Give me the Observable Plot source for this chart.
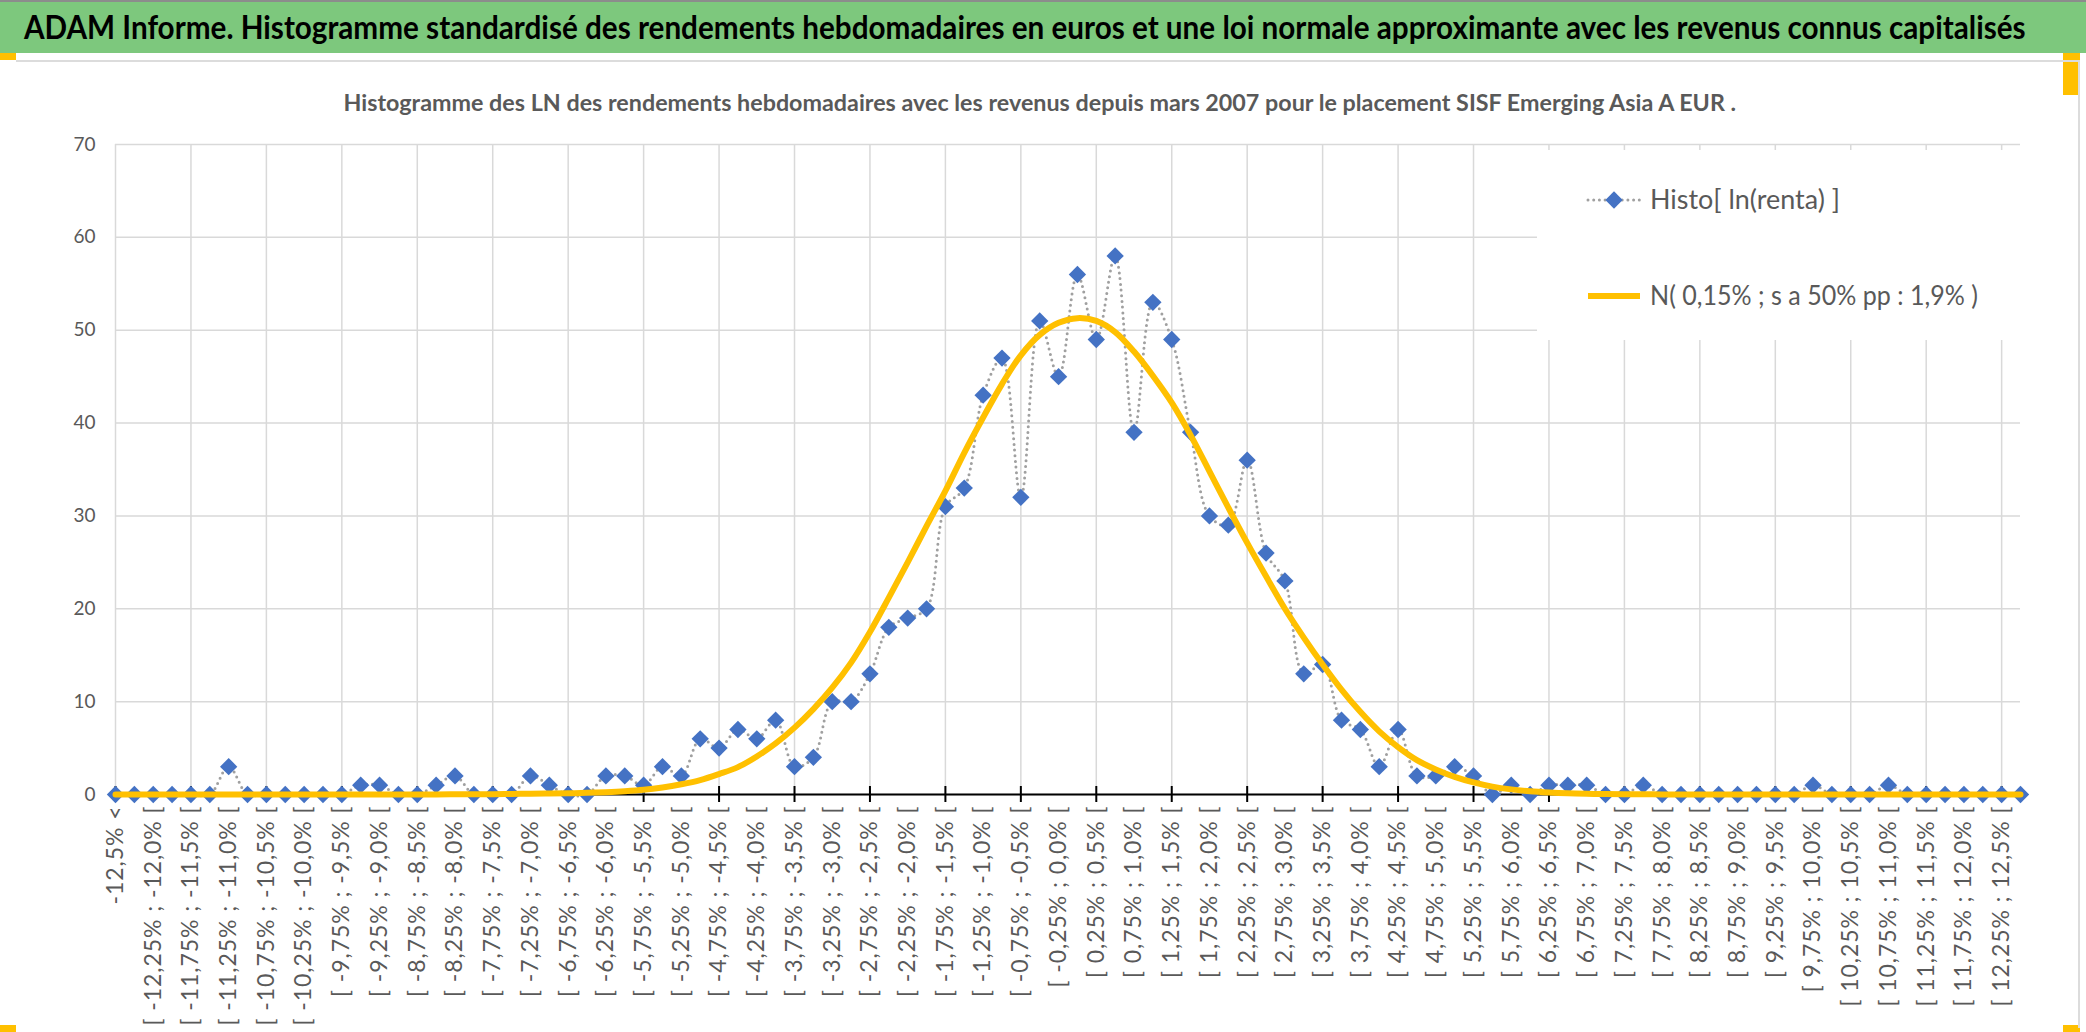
<!DOCTYPE html>
<html><head><meta charset="utf-8">
<script src="https://cdn.jsdelivr.net/npm/d3@7"></script>
<script src="https://cdn.jsdelivr.net/npm/@observablehq/plot@0.6"></script>
<style>
body{margin:0;background:#fff;}
#page{position:relative;width:2086px;height:1032px;overflow:hidden;background:#fff;font-family:Lato,"Open Sans",sans-serif;}
#titlebar{position:absolute;left:0;top:0;width:2086px;height:53px;background:#7dc87d;border-top:2px solid #8c8c8c;box-sizing:border-box;}
.orange{position:absolute;background:#ffc000;}
#box{position:absolute;left:16px;top:60px;width:2064px;height:968px;border-top:2px solid #dcdcdc;border-right:2px solid #dcdcdc;box-sizing:border-box;}
#chart{position:absolute;left:0;top:61px;}
#sub{position:absolute;left:0;top:61px;}
</style></head>
<body><div id="page">
<div id="titlebar"><svg width="2086" height="51"><text id="title" x="0" y="0" font-family="Lato" font-weight="bold" font-size="33" fill="#000" text-anchor="start">ADAM Informe. Histogramme standardisé des rendements hebdomadaires en euros et une loi normale approximante avec les revenus connus capitalisés</text></svg></div>
<div class="orange" style="left:0;top:53px;width:16px;height:7px"></div>
<div class="orange" style="left:2063px;top:53px;width:17px;height:42px"></div>
<div class="orange" style="left:0;top:1025px;width:16px;height:7px"></div>
<div class="orange" style="left:2063px;top:1025px;width:17px;height:7px"></div>
<div id="box"></div>
<div id="chart"></div>
<svg id="sub" width="2086" height="70"><text id="subtitle" x="0" y="0" text-anchor="start" font-family="Lato" font-weight="bold" font-size="22" fill="#595959">Histogramme des LN des rendements hebdomadaires avec les revenus depuis mars 2007 pour le placement SISF Emerging Asia A EUR .</text></svg>
</div>
<script>
// Bins: "-12,5% <", then 0.25%-wide bins from -12.5% to 12.5%, then the upper tail
const binStart = -12.5;
const binStep = 0.25;
const binCount = 100;
const lowLabel = "-12,5% <";
const highLabel = "≥ 12,5%";

// Weekly counts per bin
const histo = [
  0,0,0,0,0,0,3,0,0,0, 0,0,0,1,1,0,0,1,2,0,
  0,0,2,1,0,0,2,2,1,3, 2,6,5,7,6,8,3,4,10,10,
  13,18,19,20,31,33,43,47,32,51, 45,56,49,58,39,53,49,39,30,29,
  36,26,23,13,14,8,7,3,7,2, 2,3,2,0,1,0,1,1,1,0,
  0,1,0,0,0,0,0,0,0,0, 1,0,0,0,1,0,0,0,0,0,
  0,0
];
// Approximating normal curve N(0,15% ; 1,9%) per bin
const normal = [
  0,0,0,0,0,0,0,0,0,0, 0,0,0,0,0,0,0.01,0.01,0.02,0.03,
  0.04,0.06,0.08,0.1,0.13,0.18,0.25,0.35,0.5,0.75, 1.1,1.55,2.2,2.95,4.1,5.5,7.2,9.2,11.5,14.2,
  17.5,21.2,25.0,28.9,32.7,36.8,40.6,44.2,47.3,49.5, 50.8,51.3,51.0,49.8,47.7,45.1,42.2,38.7,34.8,30.9,
  27.1,23.5,20.0,16.9,14.0,11.3,8.9,6.8,5.1,3.7, 2.7,1.9,1.3,0.85,0.55,0.35,0.22,0.13,0.08,0.05,
  0.03,0.02,0.01,0,0,0,0,0,0,0, 0,0,0,0,0,0,0,0,0,0,
  0,0
];
const yTicks = [0,10,20,30,40,50,60,70];
const seriesNames = ["Histo[ ln(renta) ]", "N( 0,15% ; s a 50% pp : 1,9% )"];

function fmt(v){ let s = v.toFixed(2); if (s.endsWith("0")) s = s.slice(0,-1); return s.replace(".", ","); }
const categories = [lowLabel];
for (let k = 0; k < binCount; k++) {
  const a = binStart + binStep*k, b = a + binStep;
  categories.push(`[ ${fmt(a)}% ; ${fmt(b)}% [`);
}
categories.push(highLabel);
const labelCats = categories.filter((c,i)=> i%2===0 && i<=binCount);
const gridCats = categories.filter((c,i)=> i%4===0 && i<=binCount);
const data = categories.map((c,i)=>({c, v: histo[i], n: normal[i]}));

const chart = Plot.plot({
  width: 2086, height: 971,
  marginLeft: 115, marginRight: 66, marginTop: 83, marginBottom: 238,
  style: {fontFamily: "Lato, 'Open Sans', sans-serif", background: "transparent", overflow: "visible"},
  x: {type: "point", domain: categories, padding: 0},
  y: {domain: [0,70]},
  marks: [
    Plot.gridY({ticks: yTicks, stroke: "#d9d9d9", strokeOpacity: 1, strokeWidth: 1.5}),
    Plot.gridX({ticks: gridCats, stroke: "#d9d9d9", strokeOpacity: 1, strokeWidth: 1.5}),
    Plot.axisY({ticks: yTicks, tickSize: 0, tickPadding: 20, fontSize: 19, fill: "#595959", label: null}),
    Plot.axisX({ticks: labelCats, tickSize: 0, tickRotate: -90, tickPadding: 11, fontSize: 23, fill: "#595959", label: null}),
    Plot.ruleY([0], {stroke: "#000", strokeWidth: 2}),
    Plot.ruleX(gridCats, {x: d=>d, y1: -0.86, y2: 0.86, stroke: "#000", strokeWidth: 2}),
    Plot.line(data, {x:"c", y:"v", stroke:"#a0a0a0", strokeWidth: 3, strokeDasharray: "0 5.7", strokeLinecap: "round", curve: "catmull-rom"}),
    Plot.dot(data, {x:"c", y:"v", symbol:"diamond2", r: 7.8, fill:"#4472c4"}),
    Plot.line(data, {x:"c", y:"n", stroke:"#ffc000", strokeWidth: 6, curve:"catmull-rom"})
  ]
});
document.getElementById("chart").appendChild(chart);

// widen the x tick labels (letter spacing) to the reference's length
const xText = Array.from(chart.querySelectorAll("text")).filter(n => categories.includes(n.textContent));
const refNode = xText.find(n => n.textContent === categories[2]);
if (refNode) {
  const base = refNode.getComputedTextLength();
  const ls = (219 - base) / (categories[2].length - 1);
  xText.forEach(n => n.setAttribute("letter-spacing", ls.toFixed(2)));
}

// legend drawn inside the plot area (top right)
const svg = d3.select(chart);
const lg = svg.append("g").attr("text-anchor","start");
lg.append("rect").attr("x",1537).attr("y",89).attr("width",495).attr("height",190).attr("fill","#fff");
const L = [{y:139, w:190}, {y:235, w:328}];
lg.append("line").attr("x1",1588).attr("x2",1640).attr("y1",L[0].y).attr("y2",L[0].y)
  .attr("stroke","#a0a0a0").attr("stroke-width",3).attr("stroke-dasharray","0 5.7").attr("stroke-linecap","round");
lg.append("path").attr("d", d3.symbol(d3.symbolDiamond2, Math.PI*7.8*7.8)()).attr("transform",`translate(1614,${L[0].y})`).attr("fill","#4472c4");
lg.append("line").attr("x1",1588).attr("x2",1640).attr("y1",L[1].y).attr("y2",L[1].y)
  .attr("stroke","#ffc000").attr("stroke-width",6);
seriesNames.forEach((s,i)=>{
  lg.append("text").attr("x",1650).attr("y",L[i].y).attr("dy","0.36em").attr("font-size",26)
    .attr("text-anchor","start")
    .attr("font-family","Lato").attr("fill","#595959").attr("textLength",L[i].w).attr("lengthAdjust","spacingAndGlyphs").text(s);
});

// fit title / subtitle to the reference width by horizontal scaling
function fitText(id, x, y, w) {
  const t = document.getElementById(id);
  const nat = t.getComputedTextLength();
  t.setAttribute("transform", `translate(${x},${y}) scale(${(w/nat).toFixed(4)},1)`);
}
fitText("title", 24, 37, 2002);
fitText("subtitle", 1040 - 1393/2, 50, 1393);
</script>
</body></html>
